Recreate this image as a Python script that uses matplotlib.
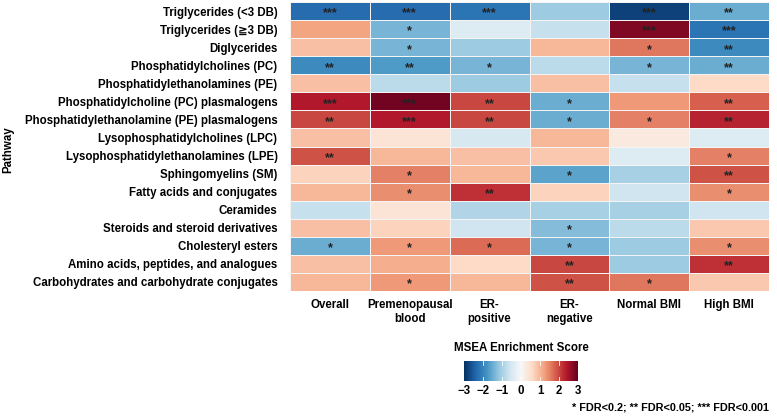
import matplotlib.pyplot as plt
import numpy as np

plt.rcParams['font.family'] = ['Liberation Sans', 'DejaVu Sans']

# ---- data ----
pathways = ['Triglycerides (<3 DB)', 'Triglycerides (\u22673 DB)', 'Diglycerides',
            'Phosphatidylcholines (PC)', 'Phosphatidylethanolamines (PE)',
            'Phosphatidylcholine (PC) plasmalogens', 'Phosphatidylethanolamine (PE) plasmalogens',
            'Lysophosphatidylcholines (LPC)', 'Lysophosphatidylethanolamines (LPE)',
            'Sphingomyelins (SM)', 'Fatty acids and conjugates', 'Ceramides',
            'Steroids and steroid derivatives', 'Cholesteryl esters',
            'Amino acids, peptides, and analogues', 'Carbohydrates and carbohydrate conjugates']
groups = ['Overall', 'Premenopausal\nblood', 'ER-\npositive', 'ER-\nnegative', 'Normal BMI', 'High BMI']

overall   = [-2.3, 1.2, 0.9, -1.9, 0.9, 2.4, 2.0, 0.9, 1.9, 0.7, 1.0, -0.7, 0.9, -1.5, 0.9, 1.0]
premeno   = [-2.3, -1.4, -1.4, -1.7, -0.8, 2.9, 2.4, 0.4, 1.0, 1.5, 1.4, 0.4, 0.7, 1.3, 1.1, 1.3]
er_pos    = [-2.2, -0.4, -1.1, -1.4, -1.1, 2.0, 2.0, -0.5, 0.9, 1.0, 2.2, -0.9, -0.6, 1.7, 0.6, 1.0]
er_neg    = [-1.1, -0.7, 1.0, -0.8, 0.9, -1.5, -1.5, 1.0, 0.8, -1.6, 0.7, -1.0, -1.3, -1.4, 2.0, 1.9]
bmi_norm  = [-2.8, 2.8, 1.6, -1.4, -0.7, 1.3, 1.5, 0.3, -0.4, -1.0, -0.6, -1.0, -0.8, -1.1, -1.1, 1.6]
bmi_high  = [-1.5, -2.2, -1.9, -1.5, 0.6, 1.8, 2.3, -0.4, 1.5, 1.9, 1.4, -0.6, 0.8, 1.4, 2.2, 0.8]

stars_overall  = ['***', '', '', '**', '', '***', '**', '', '**', '', '', '', '', '*', '', '']
stars_premeno  = ['***', '*', '*', '**', '', '***', '***', '', '', '*', '*', '', '', '*', '', '*']
stars_er_pos   = ['***', '', '', '*', '', '**', '**', '', '', '', '**', '', '', '*', '', '']
stars_er_neg   = ['', '', '', '', '', '*', '*', '', '', '*', '', '', '*', '*', '**', '**']
stars_bmi_norm = ['***', '***', '*', '*', '', '', '*', '', '', '', '', '', '', '', '', '*']
stars_bmi_high = ['**', '***', '**', '**', '', '**', '**', '', '*', '**', '*', '', '', '*', '**', '']

scores = np.column_stack([overall, premeno, er_pos, er_neg, bmi_norm, bmi_high])
stars = np.column_stack([stars_overall, stars_premeno, stars_er_pos,
                         stars_er_neg, stars_bmi_norm, stars_bmi_high])

# ---- plot ----
fig = plt.figure(figsize=(7.77, 4.17), dpi=100)
ax = fig.add_axes([290/777, 1-291/417, 479/777, 289/417])

mesh = ax.pcolormesh(scores, cmap='RdBu_r', vmin=-3, vmax=3,
                     edgecolors='#f4f4f4', linewidth=0.5)
ax.set_xlim(0, len(groups))
ax.set_ylim(len(pathways), 0)

for i in range(len(pathways)):
    for j in range(len(groups)):
        if stars[i, j]:
            ax.text(j + 0.5, i + 0.64, stars[i, j], ha='center', va='center',
                    fontsize=9, color='#222222', fontweight='bold')

ax.set_yticks(np.arange(len(pathways)) + 0.5)
ax.set_yticklabels(pathways, fontsize=8.3, fontweight='bold')
ax.set_xticks(np.arange(len(groups)) + 0.5)
ax.set_xticklabels(groups, fontsize=8.3, fontweight='bold', va='top')
ax.tick_params(axis='y', length=0, pad=9)
ax.tick_params(axis='x', length=0, pad=6)
for s in ax.spines.values():
    s.set_visible(False)

fig.text(8/777, 1-150/417, 'Pathway', rotation=90, ha='center', va='center',
         fontsize=8.3, fontweight='bold')

# colorbar
cax = fig.add_axes([464/777, 1-381/417, 114/777, 20/417])
cb = fig.colorbar(mesh, cax=cax, orientation='horizontal', ticks=[-3, -2, -1, 0, 1, 2, 3])
cb.outline.set_visible(False)
cb.ax.tick_params(length=0, labelsize=8.3, pad=3)
for t in cb.ax.get_xticklabels():
    t.set_fontweight('bold')
for v in [-2, -1, 0, 1, 2]:
    cax.axvline(v, color='white', lw=0.6, ymax=0.2)
    cax.axvline(v, color='white', lw=0.6, ymin=0.8)
fig.text(521/777, 1-348/417, 'MSEA Enrichment Score', ha='center', va='center',
         fontsize=8.3, fontweight='bold')

fig.text(769/777, 1-407/417, '* FDR<0.2; ** FDR<0.05; *** FDR<0.001', ha='right', va='center',
         fontsize=7.8, fontweight='bold')

plt.savefig('out.png', dpi=100)
